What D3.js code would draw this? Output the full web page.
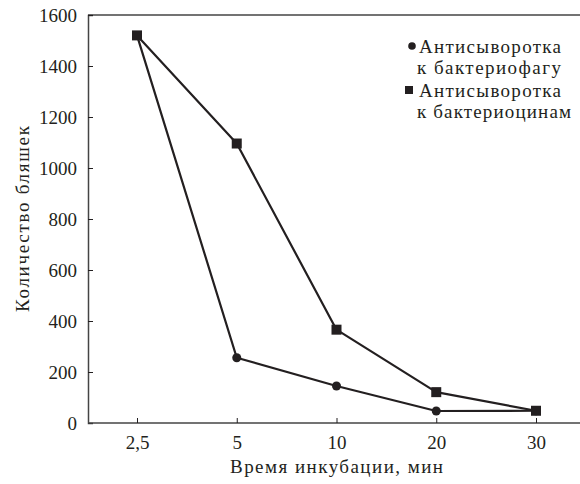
<!DOCTYPE html>
<html>
<head>
<meta charset="utf-8">
<script src="https://cdn.jsdelivr.net/npm/d3@7"></script>
</head>
<body style="margin:0">
<script>
// data
const times = ['2,5', '5', '10', '20', '30']
const phage = [1520, 256, 145, 47, 48]        // антисыворотка к бактериофагу
const bacteriocin = [1520, 1096, 366, 121, 48] // антисыворотка к бактериоцинам
const yTicks = [0, 200, 400, 600, 800, 1000, 1200, 1400, 1600]
const legendItems = [
  { shape: 'circle', lines: ['Антисыворотка', 'к бактериофагу'] },
  { shape: 'square', lines: ['Антисыворотка', 'к бактериоцинам'] }
]

const w = 580
const h = 484
const margin = { top: 15, right: 0, bottom: 61, left: 88 }
const width = w - margin.left - margin.right
const height = h - margin.top - margin.bottom
const ink = '#231f20'
const font = '"Liberation Serif", "Times New Roman", "Noto Serif", serif'

const svg = d3.select('body').append('svg')
  .attr('width', w)
  .attr('height', h)

const g = svg.append('g').attr('transform', 'translate(' + margin.left + ',' + margin.top + ')')

const x = d3.scalePoint().domain(times).range([49, 448])
const y = d3.scaleLinear().domain([0, 1600]).range([height, 0])

// frame: top line
g.append('line')
  .attr('x1', 0).attr('x2', width)
  .attr('y1', 0).attr('y2', 0)
  .attr('stroke', '#444').attr('stroke-width', 1.5)

const yAxis = g.append('g')
  .call(d3.axisRight(y).tickValues(yTicks).tickSize(5).tickFormat(d3.format('d')))
  .attr('font-family', null)
  .attr('font-size', null)
yAxis.select('.domain').attr('stroke', '#444').attr('stroke-width', 1.5)
yAxis.selectAll('.tick line').attr('stroke', ink).attr('stroke-width', 1)
yAxis.selectAll('.tick text')
  .attr('text-anchor', 'end')
  .attr('x', -11)
  .style('font-family', font)
  .style('font-size', '19px')
  .attr('fill', ink)

const xAxis = g.append('g')
  .attr('transform', 'translate(0,' + height + ')')
  .call(d3.axisTop(x).tickSize(5).tickSizeOuter(0))
  .attr('font-family', null)
  .attr('font-size', null)
xAxis.select('.domain').attr('d', 'M0,0H' + width).attr('stroke', '#444').attr('stroke-width', 1.5)
xAxis.selectAll('.tick line').attr('stroke', ink).attr('stroke-width', 1)
xAxis.selectAll('.tick text')
  .attr('y', 13)
  .attr('dy', '0.71em')
  .style('font-family', font)
  .style('font-size', '19px')
  .attr('fill', ink)

// axis titles
g.append('text')
  .attr('x', 142)
  .attr('y', height + 50)
  .attr('textLength', 213)
  .attr('lengthAdjust', 'spacing')
  .style('font-family', font)
  .style('font-size', '19px')
  .attr('fill', ink)
  .text('Время инкубации, мин')

g.append('text')
  .attr('transform', 'translate(-59,' + (height / 2 + 93) + ') rotate(-90)')
  .attr('textLength', 186)
  .attr('lengthAdjust', 'spacing')
  .style('font-family', font)
  .style('font-size', '19px')
  .attr('fill', ink)
  .text('Количество бляшек')

const line = d3.line()
  .x((d, i) => x(times[i]))
  .y(d => y(d))

g.append('path')
  .datum(phage)
  .attr('fill', 'none')
  .attr('stroke', ink)
  .attr('stroke-width', 2.2)
  .attr('stroke-linejoin', 'round')
  .attr('d', line)

g.append('path')
  .datum(bacteriocin)
  .attr('fill', 'none')
  .attr('stroke', ink)
  .attr('stroke-width', 2.2)
  .attr('stroke-linejoin', 'round')
  .attr('d', line)

g.selectAll('circle.pt')
  .data(phage)
  .enter().append('circle')
  .attr('class', 'pt')
  .attr('cx', (d, i) => x(times[i]))
  .attr('cy', d => y(d))
  .attr('r', 4.5)
  .attr('fill', ink)

g.selectAll('rect.pt')
  .data(bacteriocin)
  .enter().append('rect')
  .attr('class', 'pt')
  .attr('x', (d, i) => x(times[i]) - 5)
  .attr('y', d => y(d) - 5)
  .attr('width', 10)
  .attr('height', 10)
  .attr('fill', ink)

// legend
const legendWidths = [[142, 144], [142, 154]]
const legend = svg.append('g').attr('transform', 'translate(419,46)')
legendItems.forEach((item, k) => {
  const gy = k * 44
  if (item.shape === 'circle') {
    legend.append('circle').attr('cx', -7).attr('cy', gy).attr('r', 3.8).attr('fill', ink)
  } else {
    legend.append('rect').attr('x', -14).attr('y', gy - 4).attr('width', 8).attr('height', 8).attr('fill', ink)
  }
  item.lines.forEach((t, j) => {
    legend.append('text')
      .attr('x', j === 0 ? 0 : -2)
      .attr('y', gy + j * 21)
      .attr('dy', '0.35em')
      .attr('textLength', legendWidths[k][j])
      .attr('lengthAdjust', 'spacing')
      .style('font-family', font)
      .style('font-size', '19px')
      .attr('fill', ink)
      .text(t)
  })
})
</script>
</body>
</html>
